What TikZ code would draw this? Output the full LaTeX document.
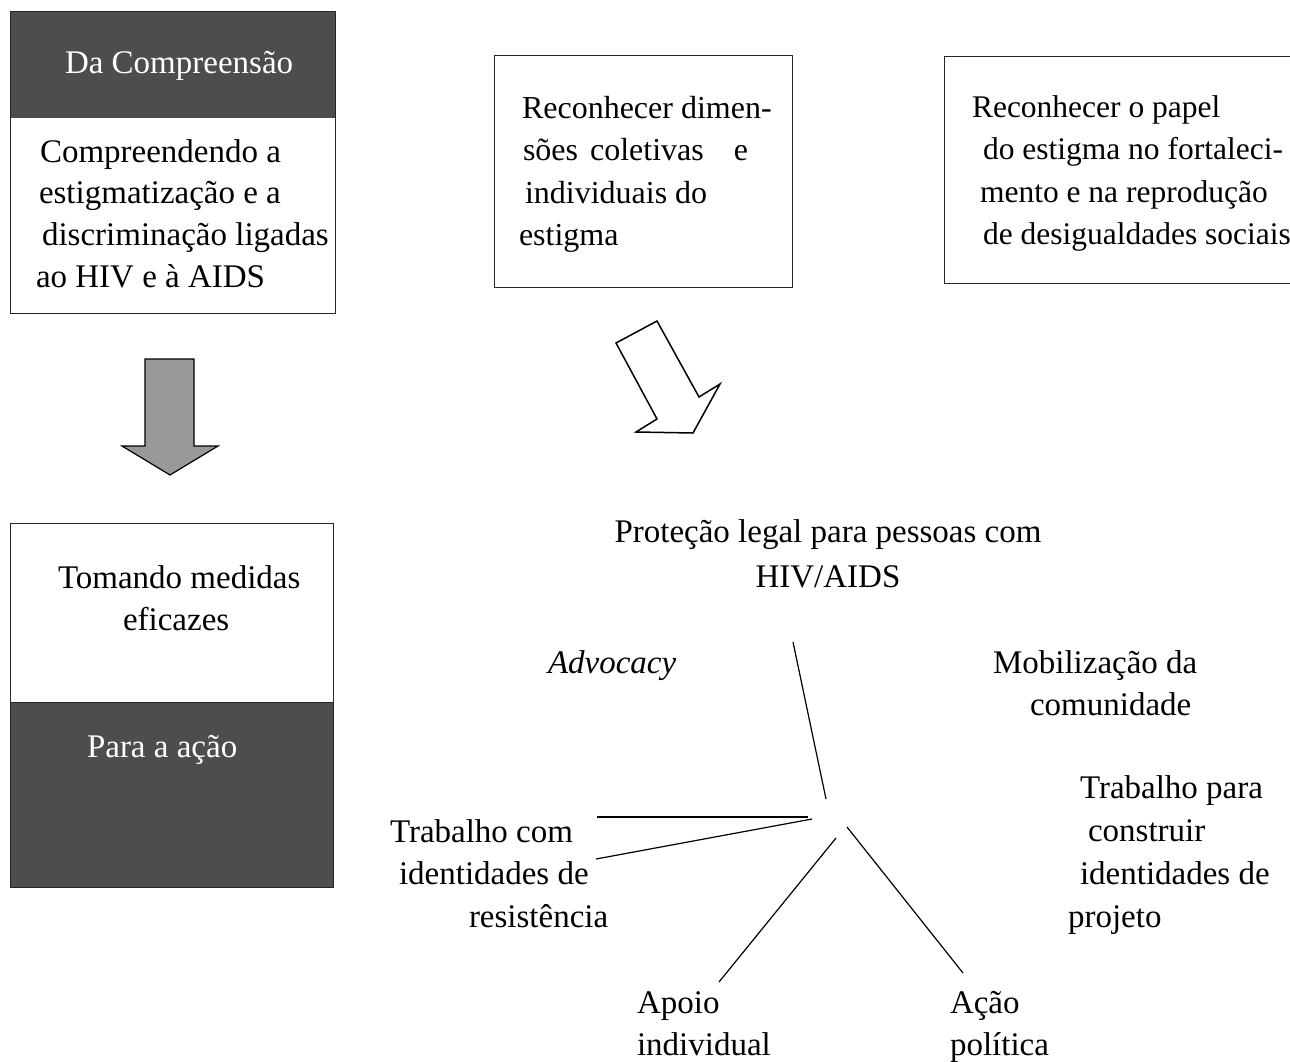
\documentclass[tikz,border=0pt]{standalone}
\usepackage{fontspec}
\setmainfont{Liberation Serif}
\definecolor{hdr}{HTML}{4D4D4D}
\definecolor{arrowgray}{HTML}{999999}
\begin{document}
\begin{tikzpicture}[x=1pt,y=-1pt,
  txt/.style={inner sep=0pt, outer sep=0pt, font=\fontsize{33}{42.5}\selectfont, align=left, anchor=base west},
  boxline/.style={draw=black!85, line width=1pt},
  spoke/.style={draw=black, line width=1.2pt}]
\path[use as bounding box] (0,0) rectangle (1290,1062);

% top-left box
\fill[hdr] (10,12) rectangle (335,118);
\draw[boxline] (10,12) rectangle (335,313);
\node[txt, text=white] (hdrA) at (65,74) {Da Compreensão};
\node[txt, font=\fontsize{33}{41.7}\selectfont] (bodyA) at (36,287.1) {\hspace*{4pt}Compreendendo a\\\hspace*{3pt}estigmatização e a\\\hspace*{6pt}discriminação ligadas\\ao HIV e à AIDS};

% down arrow
\draw[line width=1.2pt, fill=arrowgray, line join=miter] (145,359) -- (194,359) -- (194,446) -- (218,446) -- (170,475) -- (122,446) -- (145,446) -- cycle;

% bottom-left box
\fill[hdr] (10,702) rectangle (333,887);
\draw[boxline] (10,523) rectangle (333,887);
\draw[boxline] (10,702) -- (333,702);
\node[txt] (bodyB) at (58,630.5) {Tomando medidas\\\hspace*{65pt}eficazes};
\node[txt, text=white] (hdrB) at (87,757) {Para a ação};

% middle box
\draw[boxline] (494,56) rectangle (792,287);
\node[txt, font=\fontsize{32}{42.5}\selectfont] (mid) at (519,245.5) {\hspace*{3pt}Reconhecer dimen-\\\hspace*{4pt}sões\hspace{12pt}coletivas\hspace{30pt}e\\\hspace*{6pt}individuais do\\estigma};

% right box (open at the right edge)
\draw[boxline] (1290,57) -- (944,57) -- (944,283) -- (1290,283);
\node[txt, font=\fontsize{31.5}{42.5}\selectfont] (right) at (972,244.5) {Reconhecer o papel\\\hspace*{11pt}do estigma no fortaleci-\\\hspace*{8pt}mento e na reprodução\\\hspace*{11pt}de desigualdades sociais};

% hollow arrow
\draw[line width=1.5pt, fill=white, line join=miter] (616,343) -- (657,321) -- (699,397) -- (720,384) -- (693,433) -- (636,432) -- (657,419) -- cycle;

% central labels
\node[txt, align=center, anchor=base, font=\fontsize{33}{45}\selectfont] (prot) at (828,587) {Proteção legal para pessoas com\\HIV/AIDS};
\node[txt] (adv) at (548,673) {\itshape Advocacy};
\node[txt] (mob) at (993,715.5) {Mobilização da\\\hspace*{37pt}comunidade};
\node[txt, font=\fontsize{33}{43.3}\selectfont] (proj) at (1068,927.9) {\hspace*{12pt}Trabalho para\\\hspace*{20pt}construir\\\hspace*{12pt}identidades de\\projeto};
\node[txt, font=\fontsize{33}{42.7}\selectfont] (res) at (390,927.4) {Trabalho com\\\hspace*{9pt}identidades de\\\hspace*{79pt}resistência};
\node[txt, font=\fontsize{33}{42}\selectfont] (apoio) at (637,1055) {Apoio\\individual};
\node[txt, font=\fontsize{33}{42}\selectfont] (acao) at (950,1055) {Ação\\política};

% spokes
\coordinate (s1a) at (793,642); \coordinate (s1b) at (826,799);
\coordinate (s2a) at (597,817); \coordinate (s2b) at (808,817);
\coordinate (s3a) at (596,859); \coordinate (s3b) at (812,819);
\coordinate (s4a) at (719,982); \coordinate (s4b) at (836,838);
\coordinate (s5a) at (847,827); \coordinate (s5b) at (963,973);
\draw[spoke] (s1a) -- (s1b);
\draw[spoke] (s2a) -- (s2b);
\draw[spoke] (s3a) -- (s3b);
\draw[spoke] (s4a) -- (s4b);
\draw[spoke] (s5a) -- (s5b);
\end{tikzpicture}
\end{document}
